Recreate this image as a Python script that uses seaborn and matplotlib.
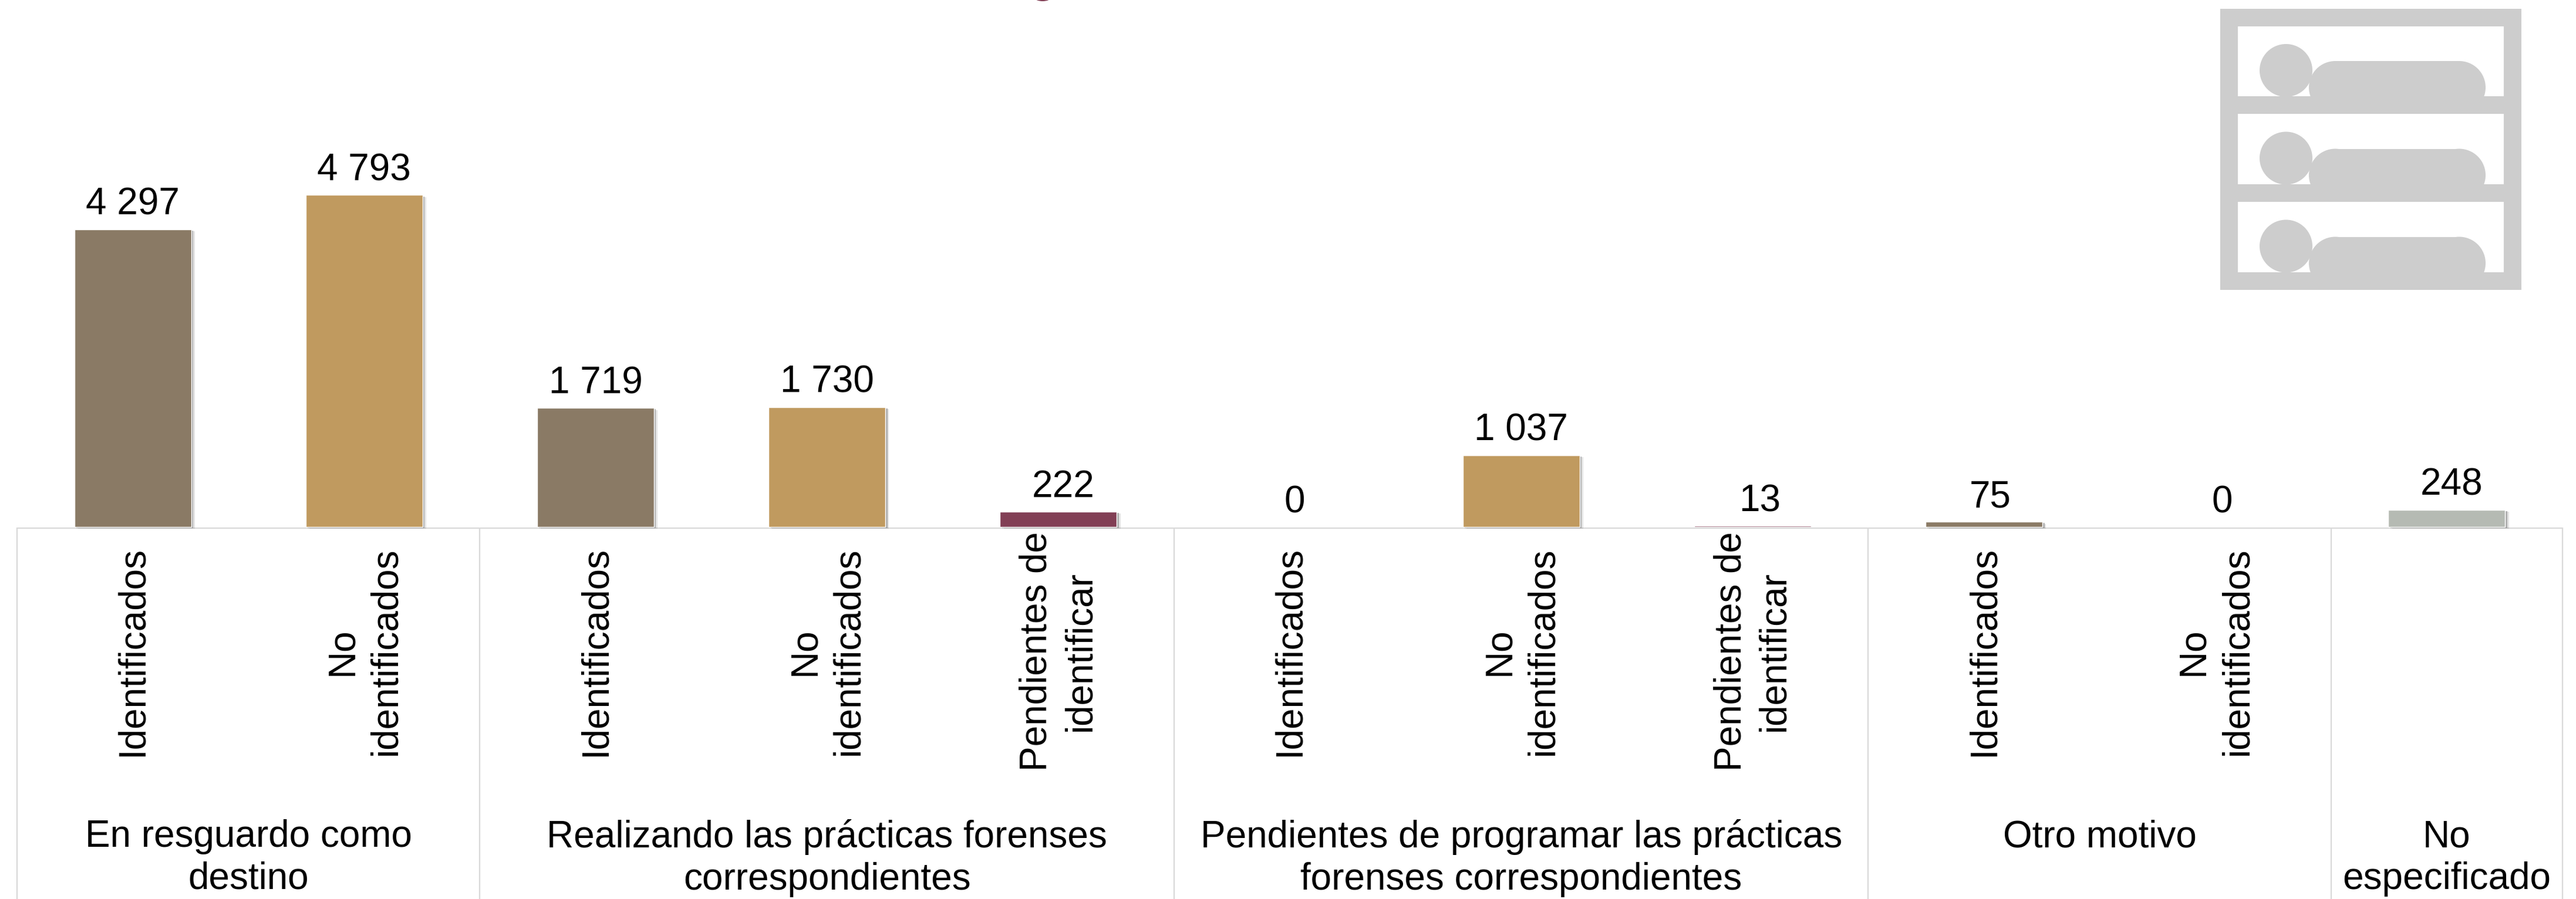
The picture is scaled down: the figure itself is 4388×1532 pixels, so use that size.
import matplotlib
matplotlib.use("Agg")
import matplotlib.pyplot as plt
import matplotlib.patheffects as pe
from matplotlib.patches import Rectangle, Ellipse
import pandas as pd
import seaborn as sns

W, H = 4388, 1532
AX_L, AX_R, AX_Y = 29, 4365, 898

categories = ["Identificados", "No\nidentificados",
              "Identificados", "No\nidentificados", "Pendientes de\nidentificar",
              "Identificados", "No\nidentificados", "Pendientes de\nidentificar",
              "Identificados", "No\nidentificados",
              ""]
values = [4297, 4793, 1719, 1730, 222, 0, 1037, 13, 75, 0, 248]
colors = ["#8A7A65", "#C09A5F", "#8A7A65", "#C09A5F", "#823F55",
          "#8A7A65", "#C09A5F", "#823F55", "#8A7A65", "#C09A5F", "#B5BAB3"]
groups = ["En resguardo como\ndestino",
          "Realizando las prácticas forenses\ncorrespondientes",
          "Pendientes de programar las prácticas\nforenses correspondientes",
          "Otro motivo",
          "No\nespecificado"]
group_edges = [-0.5, 1.5, 4.5, 7.5, 9.5, 10.5]
label_dx_px = [0, 0, 0, 0, 8, 8, 0, 12, 11, 12, 8]

sns.set_theme(style="white")
plt.rcParams["font.family"] = ["Liberation Sans", "DejaVu Sans"]
FS = 46

fig = plt.figure(figsize=(W / 100, H / 100), dpi=100, facecolor="white")
ax = fig.add_axes([AX_L / W, (H - AX_Y) / H, (AX_R - AX_L) / W, AX_Y / H])

df = pd.DataFrame({"pos": [str(i) for i in range(len(values))], "value": values})
sns.barplot(data=df, x="pos", y="value", hue="pos", palette=colors, legend=False,
            width=0.505, saturation=1, ax=ax, zorder=3)
ax.set_xlim(-0.5, len(values) - 0.5)
ax.set_ylim(0, AX_Y / 0.118)
ax.axis("off")

for p in ax.patches:
    if p.get_height() >= 50:
        p.set_clip_on(False)
        p.set_path_effects([
            pe.SimplePatchShadow(offset=(4.5, -2.5), shadow_rgbFace="#888888", alpha=0.22),
            pe.SimplePatchShadow(offset=(2.5, -1.5), shadow_rgbFace="#777777", alpha=0.5),
            pe.Normal()])

LINE = "#D9D9D9"
frac = lambda px: (AX_Y - px) / AX_Y
xt = ax.get_xaxis_transform()

ax.plot([-0.5, len(values) - 0.5], [frac(899.5)] * 2, transform=xt, color=LINE, lw=1.6,
        clip_on=False, zorder=2)
ax.vlines(group_edges, frac(H), frac(899), transform=xt, color=LINE, lw=1.6, clip_on=False, zorder=1)

for i, v in enumerate(values):
    ax.annotate(f"{v:,}".replace(",", " "), (i, v), xytext=(label_dx_px[i] * 0.72, 18),
                textcoords="offset points", ha="center", va="baseline", fontsize=FS, color="black")

for i, c in enumerate(categories):
    if c:
        ax.text(i, frac(1110), c, transform=xt, rotation=90, ha="center", va="center",
                multialignment="center", fontsize=FS, color="black", linespacing=1.3)

for k, g in enumerate(groups):
    xc = (group_edges[k] + group_edges[k + 1]) / 2
    ax.text(xc, frac(1396), g, transform=xt, ha="center", va="top",
            multialignment="center", fontsize=FS, color="black", linespacing=1.25)

# decorative icon (pixel coordinates)
GREY = "#CDCDCD"
def add(patch):
    patch.set_transform(None)
    patch.set_clip_on(False)
    fig.add_artist(patch)

def R(x0, y0, x1, y1):
    add(Rectangle((x0, H - y1), x1 - x0, y1 - y0, fc=GREY, ec="none"))

R(3782, 15, 3812, 494); R(4265, 15, 4295, 494)
for y0, y1 in [(15, 45), (164, 194), (314, 344), (464, 494)]:
    R(3782, y0, 4295, y1)
for top in (75, 224.5, 374.5):
    add(Ellipse((3894, H - (top + 45)), 90, 90, fc=GREY, ec="none"))
    add(Rectangle((3978, H - (top + 119)), 211, 90, fc=GREY, ec="none"))
    add(Ellipse((3978, H - (top + 74)), 90, 90, fc=GREY, ec="none"))
    add(Ellipse((4189, H - (top + 74)), 90, 90, fc=GREY, ec="none"))

add(Ellipse((1776, H + 3), 26, 10, fc="#823F55", ec="none"))

fig.savefig("out.png", dpi=100, facecolor="white")
